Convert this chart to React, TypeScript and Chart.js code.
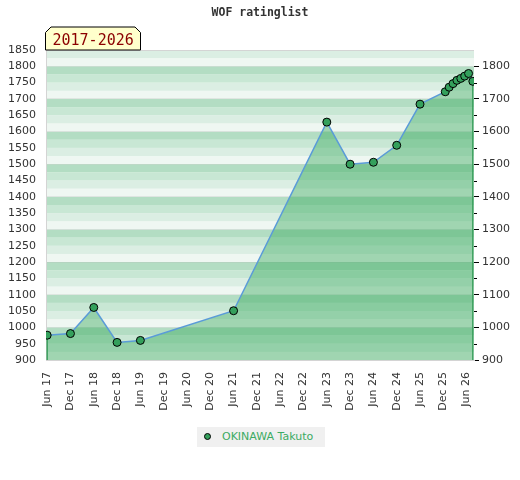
import React, { useEffect, useRef } from "react";
import { Chart, registerables } from "chart.js";

Chart.register(...registerables);

const titleText = "WOF ratinglist";
const periodLabel = "2017-2026";
const playerName = "OKINAWA Takuto";

// months counted from June 2017
const tickMonths = [0, 6, 12, 18, 24, 30, 36, 42, 48, 54, 60, 66, 72, 78, 84, 90, 96, 102, 108];
const tickLabels = [
  "Jun 17", "Dec 17", "Jun 18", "Dec 18", "Jun 19", "Dec 19", "Jun 20", "Dec 20", "Jun 21",
  "Dec 21", "Jun 22", "Dec 22", "Jun 23", "Dec 23", "Jun 24", "Dec 24", "Jun 25", "Dec 25", "Jun 26",
];

const pointMonths = [0, 6, 12, 18, 24, 48, 72, 78, 84, 90, 96, 102.5, 103.5, 104.5, 105.5, 106.5, 107.5, 108.5, 109.6];
const ratings = [976, 981, 1061, 954, 960, 1051, 1629, 1500, 1506, 1558, 1684, 1722, 1736, 1747, 1757, 1763, 1770, 1778, 1754];

const yMin = 900;
const yMax = 1850;
const xMin = -0.3;
const xMax = 109.9;

const stripeColors: Record<number, string> = {
  75: "#b3ddc3",
  50: "#c8e7d4",
  25: "#dbeee3",
  0: "#eff7f2",
};

const decorPlugin = {
  id: "decor",
  beforeDraw(chart: any) {
    const { ctx, chartArea } = chart;
    const ys = chart.scales.y;
    ctx.save();
    for (let v = yMin; v < yMax; v += 25) {
      const top = ys.getPixelForValue(v + 25);
      const bot = ys.getPixelForValue(v);
      ctx.fillStyle = stripeColors[v % 100];
      ctx.fillRect(chartArea.left, top, chartArea.right - chartArea.left, bot - top);
    }
    ctx.restore();
  },
  beforeDatasetsDraw(chart: any) {
    const { ctx, chartArea } = chart;
    const meta = chart.getDatasetMeta(0);
    const pts = meta.data;
    ctx.save();
    ctx.strokeStyle = "#3c9d5d";
    ctx.lineWidth = 1.5;
    [pts[0], pts[pts.length - 1]].forEach((p: any) => {
      ctx.beginPath();
      ctx.moveTo(p.x, p.y);
      ctx.lineTo(p.x, chartArea.bottom);
      ctx.stroke();
    });
    ctx.restore();
  },
  afterDraw(chart: any) {
    const { ctx, chartArea } = chart;
    const y2 = chart.scales.y2;
    ctx.save();
    // minor ticks on the right axis
    ctx.strokeStyle = "#000";
    ctx.lineWidth = 1;
    for (let v = yMin + 50; v < yMax; v += 100) {
      const py = Math.round(y2.getPixelForValue(v)) + 0.5;
      ctx.beginPath();
      ctx.moveTo(chartArea.right, py);
      ctx.lineTo(chartArea.right + 3, py);
      ctx.stroke();
    }
    // top border
    ctx.strokeStyle = "#d4d4d4";
    ctx.beginPath();
    ctx.moveTo(chartArea.left, chartArea.top + 0.5);
    ctx.lineTo(chartArea.right, chartArea.top + 0.5);
    ctx.stroke();
    // period badge
    const l = chartArea.left - 0.5;
    const r = l + 95;
    const b = chartArea.top;
    const t = b - 23;
    const c = 5.5;
    ctx.beginPath();
    ctx.moveTo(l, b);
    ctx.lineTo(l, t + c);
    ctx.lineTo(l + c, t);
    ctx.lineTo(r - c, t);
    ctx.lineTo(r, t + c);
    ctx.lineTo(r, b);
    ctx.closePath();
    ctx.fillStyle = "#ffffcc";
    ctx.fill();
    ctx.strokeStyle = "#000";
    ctx.lineWidth = 1;
    ctx.stroke();
    ctx.fillStyle = "#8b0000";
    ctx.font = "15px 'DejaVu Sans Mono'";
    ctx.textBaseline = "alphabetic";
    ctx.textAlign = "left";
    ctx.fillText(periodLabel, l + 7, b - 5);
    ctx.restore();
  },
};

export default function App() {
  const canvasRef = useRef<HTMLCanvasElement | null>(null);

  useEffect(() => {
    document.body.style.margin = "0";
    const canvas = canvasRef.current;
    if (!canvas) return;
    const tickFont = { family: "'DejaVu Sans'", size: 11 };
    const chart = new Chart(canvas, {
      type: "line",
      data: {
        datasets: [
          {
            label: playerName,
            data: pointMonths.map((m, i) => ({ x: m, y: ratings[i] })),
            borderColor: "#5a9bd8",
            borderWidth: 1.5,
            backgroundColor: "rgba(50,166,88,0.42)",
            fill: "start",
            tension: 0,
            pointRadius: 4,
            pointHoverRadius: 4,
            pointBackgroundColor: "#34a05c",
            pointBorderColor: "#000",
            pointBorderWidth: 1,
            yAxisID: "y",
          },
        ],
      },
      options: {
        responsive: false,
        animation: false,
        maintainAspectRatio: false,
        layout: { padding: { left: 0, right: 0, top: 6, bottom: 70 } },
        plugins: {
          legend: { display: false },
          tooltip: { enabled: false },
          title: {
            display: true,
            text: titleText,
            color: "#333",
            font: { family: "'DejaVu Sans Mono'", size: 11.5, weight: "bold" },
            padding: { top: 0, bottom: 30.2 },
          },
        },
        scales: {
          x: {
            type: "linear",
            min: xMin,
            max: xMax,
            afterBuildTicks: (scale: any) => {
              scale.ticks = tickMonths.map((v) => ({ value: v }));
            },
            afterFit: (scale: any) => {
              scale.height = 50;
            },
            grid: { display: false, drawTicks: false },
            border: { display: true, color: "#d4d4d4", width: 1 },
            ticks: {
              autoSkip: false,
              minRotation: 90,
              maxRotation: 90,
              padding: 12,
              color: "#333",
              font: tickFont,
              callback: (value: any) => {
                const i = tickMonths.indexOf(Number(value));
                return i >= 0 ? tickLabels[i] : "";
              },
            },
          },
          y: {
            type: "linear",
            position: "left",
            min: yMin,
            max: yMax,
            afterFit: (scale: any) => {
              scale.width = 46;
            },
            grid: { display: false, drawTicks: false },
            border: { display: true, color: "#d4d4d4", width: 1 },
            ticks: {
              stepSize: 50,
              padding: 10,
              color: "#333",
              font: tickFont,
              callback: (value: any) => String(value),
            },
          },
          y2: {
            type: "linear",
            position: "right",
            min: yMin,
            max: yMax,
            afterFit: (scale: any) => {
              scale.width = 46;
            },
            grid: {
              display: true,
              drawOnChartArea: true,
              drawTicks: true,
              tickLength: 5,
              color: (ctx: any) => {
                const v = ctx.tick ? ctx.tick.value : 0;
                return v % 100 === 0 && v > yMin && v < yMax ? "rgba(0,0,0,0.07)" : "rgba(0,0,0,0)";
              },
              tickColor: (ctx: any) => {
                const v = ctx.tick ? ctx.tick.value : 0;
                return v < yMax && v % 100 === 0 ? "#000" : "rgba(0,0,0,0)";
              },
            },
            border: { display: false },
            ticks: {
              stepSize: 50,
              padding: 3,
              color: "#333",
              font: tickFont,
              callback: (value: any) => (Number(value) % 100 === 0 && Number(value) < yMax ? String(value) : ""),
            },
          },
        },
      },
      plugins: [decorPlugin],
    } as any);
    return () => chart.destroy();
  }, []);

  return (
    <div style={{ position: "relative", width: 520, height: 480 }}>
      <canvas ref={canvasRef} width={520} height={480} style={{ width: 520, height: 480, display: "block" }} />
      <div
        style={{
          position: "absolute",
          left: 197,
          top: 427,
          width: 128,
          height: 20,
          background: "#f0f0f0",
          fontFamily: "'DejaVu Sans'",
          fontSize: 11,
          color: "#3cab63",
          lineHeight: "20px",
          whiteSpace: "nowrap",
        }}
      >
        <span
          style={{
            position: "absolute",
            left: 7,
            top: 6,
            width: 7,
            height: 7,
            borderRadius: "50%",
            background: "#34a05c",
            border: "1px solid #000",
            boxSizing: "border-box",
          }}
        />
        <span style={{ position: "absolute", left: 25, top: 0 }}>{playerName}</span>
      </div>
    </div>
  );
}
